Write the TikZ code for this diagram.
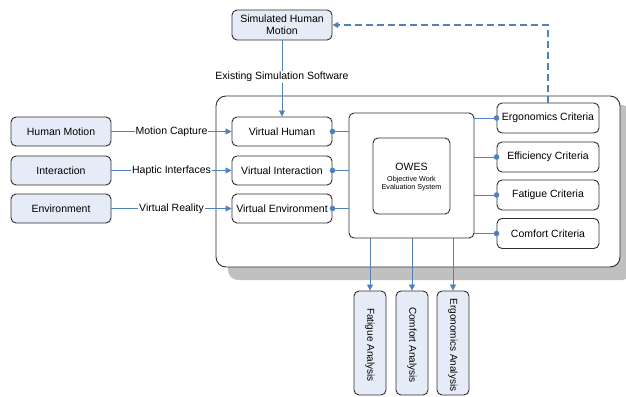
\documentclass[tikz,border=0pt]{standalone}
\usepackage{fontspec}
\setmainfont{Liberation Sans}
\usetikzlibrary{arrows.meta}
\definecolor{lblue}{HTML}{4F81BD}
\definecolor{bfill}{HTML}{E6ECF7}
\definecolor{bdraw}{HTML}{2E2E2E}
\definecolor{shadowc}{HTML}{C0C0C0}
\tikzset{
  box/.style={draw=bdraw, line width=0.9pt, rounded corners=5pt, inner sep=0pt, font=\fontsize{10.5}{12}\selectfont, align=center},
  srcbox/.style={box, fill=bfill},
  whitebox/.style={box, fill=white},
  conn/.style={draw=lblue, line width=0.8pt},
  arr/.style={conn, -{Triangle[length=6pt,width=6pt]}},
  dotend/.style={conn, -{Circle[length=5.5pt,sep=-2.75pt]}},
  dotstart/.style={conn, {Circle[length=5.5pt,sep=-2.75pt]}-},
  lbl/.style={fill=white, inner sep=1pt, font=\fontsize{10.5}{12}\selectfont},
  rotlbl/.style={rotate=-90, font=\fontsize{10}{12}\selectfont, inner sep=0pt},
}
\begin{document}
\begin{tikzpicture}[x=1pt,y=-1pt]
\useasboundingbox (0,0) rectangle (626,396);
% container with shadow
\fill[shadowc, rounded corners=10pt] (228,105) rectangle (632,280);
\node[draw=bdraw, line width=0.9pt, fill=white, rounded corners=10pt, minimum width=404pt, minimum height=171pt, inner sep=0pt] (cont) at (418,181.5) {};
% top
\node[srcbox, minimum width=100pt, minimum height=30pt] (shm) at (282,25) {Simulated Human\\Motion};
% sources
\node[srcbox, minimum width=100pt, minimum height=29pt] (hm) at (61,131.5) {Human Motion};
\node[srcbox, minimum width=100pt, minimum height=29pt] (int) at (61,170.5) {Interaction};
\node[srcbox, minimum width=100pt, minimum height=29pt] (env) at (61,208.5) {Environment};
% virtual
\node[whitebox, minimum width=100pt, minimum height=29pt] (vh) at (282,131.5) {Virtual Human};
\node[whitebox, minimum width=100pt, minimum height=29pt] (vi) at (282,170.5) {Virtual Interaction};
\node[whitebox, minimum width=100pt, minimum height=29pt] (ve) at (282,208.5) {Virtual Environment};
% OWES
\node[whitebox, minimum width=125pt, minimum height=125pt] (owes) at (411.5,175.5) {};
\node[whitebox, minimum width=77pt, minimum height=76pt] (owesin) at (411.5,176) {};
\node[inner sep=0pt, font=\fontsize{10.5}{12}\selectfont] (owest) at (411.5,166.5) {OWES};
\node[align=center, inner sep=0pt, font=\fontsize{7.2}{8.3}\selectfont] (owessub) at (411.5,183.5) {Objective Work\\Evaluation System};
% criteria
\node[whitebox, minimum width=102pt, minimum height=30pt] (ergo) at (548,118) {Ergonomics Criteria};
\node[whitebox, minimum width=102pt, minimum height=30pt] (eff) at (548,157) {Efficiency Criteria};
\node[whitebox, minimum width=102pt, minimum height=30pt] (fat) at (548,195) {Fatigue Criteria};
\node[whitebox, minimum width=102pt, minimum height=30pt] (com) at (548,233.5) {Comfort Criteria};
% analysis
\node[srcbox, minimum width=32pt, minimum height=104pt] (fa) at (370,343) {};
\node[srcbox, minimum width=32pt, minimum height=104pt] (ca) at (412,343) {};
\node[srcbox, minimum width=32pt, minimum height=104pt] (ea) at (453,343) {};
\node[rotlbl] (fat2) at (370,345) {Fatigue Analysis};
\node[rotlbl] (com2) at (412,345) {Comfort Analysis};
\node[rotlbl] (erg2) at (453,345) {Ergonomics Analysis};
% connectors
\draw[arr] (shm.south) -- node[lbl, pos=0.48] (ess) {Existing Simulation Software} (vh.north);
\draw[arr] (hm.east) -- node[lbl, pos=0.5] (mc) {Motion Capture} (vh.west);
\draw[arr] (int.east) -- node[lbl, pos=0.5] (hi) {Haptic Interfaces} (vi.west);
\draw[arr] (env.east) -- node[lbl, pos=0.5] (vr) {Virtual Reality} (ve.west);
\draw[dotstart] (vh.east) -- (vh.east -| owes.west);
\draw[dotstart] (vi.east) -- (vi.east -| owes.west);
\draw[dotstart] (ve.east) -- (ve.east -| owes.west);
\draw[dotend] (ergo.west -| owes.east) -- (ergo.west);
\draw[dotend] (eff.west -| owes.east) -- (eff.west);
\draw[dotend] (fat.west -| owes.east) -- (fat.west);
\draw[dotend] (com.west -| owes.east) -- (com.west);
\draw[arr] (owes.south -| fa) -- (fa.north);
\draw[arr] (owes.south -| ca) -- (ca.north);
\draw[arr] (owes.south -| ea) -- (ea.north);
\draw[arr, dashed, dash pattern=on 7pt off 4pt, line width=1.4pt] (ergo.north) -- (ergo.north |- shm.east) -- (shm.east);
\end{tikzpicture}
\end{document}
